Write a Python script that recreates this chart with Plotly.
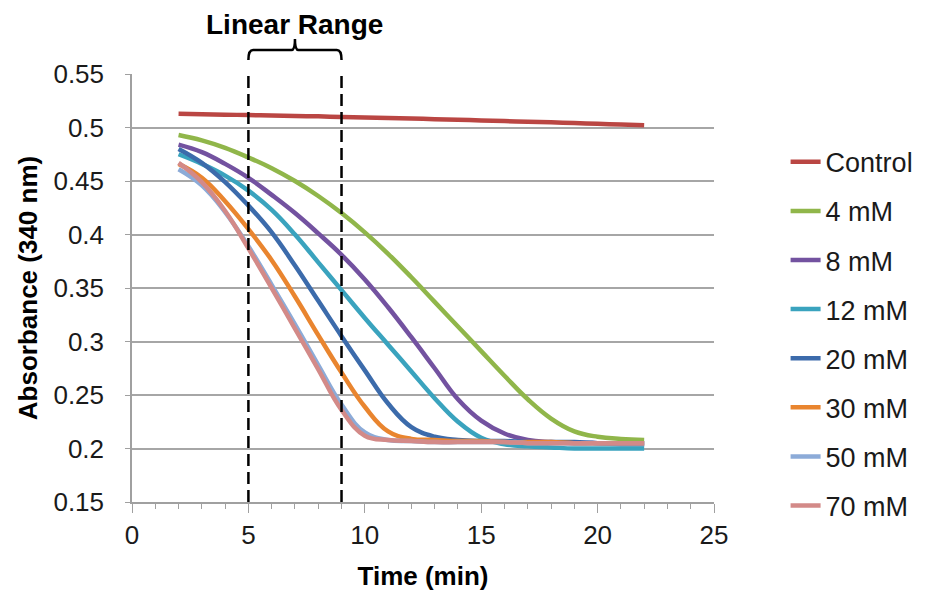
import plotly.graph_objects as go

# ---------------- data ----------------
times = [2, 3, 4, 5, 6, 7, 8, 9, 10, 11, 12, 13, 14, 15, 16, 17, 18, 19, 20, 21, 22]

control = [0.5128, 0.5124, 0.5120, 0.5116, 0.5112, 0.5108, 0.5104, 0.5099, 0.5094, 0.5089, 0.5084,
           0.5078, 0.5072, 0.5066, 0.5060, 0.5054, 0.5048, 0.5041, 0.5034, 0.5027, 0.5020]
mm4 = [0.493, 0.488, 0.481, 0.472, 0.462, 0.450, 0.436, 0.420, 0.402, 0.382, 0.360,
       0.337, 0.314, 0.291, 0.268, 0.246, 0.228, 0.216, 0.211, 0.209, 0.208]
mm8 = [0.484, 0.477, 0.466, 0.453, 0.437, 0.420, 0.401, 0.381, 0.358, 0.332, 0.304,
       0.275, 0.246, 0.226, 0.214, 0.208, 0.206, 0.205, 0.205, 0.204, 0.204]
mm12 = [0.475, 0.466, 0.455, 0.441, 0.423, 0.400, 0.374, 0.348, 0.322, 0.297, 0.272,
        0.247, 0.225, 0.210, 0.204, 0.202, 0.201, 0.200, 0.200, 0.200, 0.200]
mm20 = [0.480, 0.467, 0.449, 0.427, 0.402, 0.371, 0.338, 0.305, 0.273, 0.242, 0.220,
        0.211, 0.208, 0.207, 0.207, 0.206, 0.206, 0.206, 0.205, 0.205, 0.205]
mm30 = [0.466, 0.453, 0.431, 0.405, 0.376, 0.342, 0.306, 0.271, 0.239, 0.216, 0.209,
        0.208, 0.207, 0.207, 0.206, 0.206, 0.206, 0.205, 0.205, 0.205, 0.205]
mm50 = [0.461, 0.446, 0.421, 0.389, 0.353, 0.316, 0.278, 0.241, 0.215, 0.208, 0.207,
        0.206, 0.206, 0.206, 0.206, 0.205, 0.205, 0.205, 0.205, 0.205, 0.205]
mm70 = [0.467, 0.449, 0.422, 0.387, 0.350, 0.312, 0.274, 0.236, 0.212, 0.208, 0.207,
        0.206, 0.206, 0.206, 0.206, 0.205, 0.205, 0.205, 0.205, 0.205, 0.205]

series_names = ["Control", "4 mM", "8 mM", "12 mM", "20 mM", "30 mM", "50 mM", "70 mM"]
series_values = [control, mm4, mm8, mm12, mm20, mm30, mm50, mm70]
series_colors = ["#BA4643", "#90B64A", "#7352A0", "#3AA3BE", "#3C6BAB", "#E9852F", "#8CABD8", "#D38A88"]

linear_range = [5, 9]
x_ticks = [0, 5, 10, 15, 20, 25]
y_ticks = [0.15, 0.2, 0.25, 0.3, 0.35, 0.4, 0.45, 0.5, 0.55]
y_tick_labels = ["0.15", "0.2", "0.25", "0.3", "0.35", "0.4", "0.45", "0.5", "0.55"]

FONT = "Arial, Liberation Sans, sans-serif"

fig = go.Figure()
for i, (name, vals, col) in enumerate(zip(series_names, series_values, series_colors)):
    fig.add_trace(go.Scatter(
        x=times, y=vals, name=name, mode="lines",
        line=dict(color=col, width=4.5, shape="spline", smoothing=1.2),
        legendgroup=f"g{i}",
    ))

# dashed lines delimiting the linear range
for xv in linear_range:
    fig.add_shape(type="line", xref="x", yref="y", x0=xv, x1=xv, y0=0.15, y1=0.55,
                  line=dict(color="black", width=2.5, dash="12px,6px"), layer="above")

# bracket above the linear range
a, b = linear_range
m = (a + b) / 2
yb, yt, ytip = 1.033, 1.056, 1.082
path = (f"M {a},{yb} Q {a},{yt} {a+0.2},{yt} L {m-0.15},{yt} Q {m},{yt} {m},{ytip} "
        f"Q {m},{yt} {m+0.15},{yt} L {b-0.2},{yt} Q {b},{yt} {b},{yb}")
fig.add_shape(type="path", xref="x", yref="paper", path=path,
              line=dict(color="black", width=2.5))

fig.add_annotation(x=m, xref="x", y=1.116, yref="paper", text="<b>Linear Range</b>",
                   showarrow=False, font=dict(family=FONT, size=28, color="black"),
                   xanchor="center", yanchor="middle")

fig.update_layout(
    width=928, height=602,
    margin=dict(l=132, r=214, t=74, b=100, autoexpand=False),
    paper_bgcolor="white", plot_bgcolor="white",
    font=dict(family=FONT, size=26, color="#1a1a1a"),
    showlegend=True,
    legend=dict(
        x=1.123, y=0.851, xanchor="left", yanchor="top",
        font=dict(family=FONT, size=27, color="#1a1a1a"),
        traceorder="grouped", tracegroupgap=11,
        bgcolor="rgba(0,0,0,0)", itemwidth=30,
    ),
    xaxis=dict(
        range=[0, 25], tickvals=x_ticks, ticktext=[str(v) for v in x_ticks],
        showgrid=False, zeroline=False,
        showline=True, linecolor="#A0A0A0", linewidth=1.5,
        ticks="outside", ticklen=9, tickcolor="#A0A0A0", tickwidth=1.3,
        minor=dict(dtick=1, ticks="outside", ticklen=5, tickcolor="#A0A0A0", tickwidth=1.3, showgrid=False),
        tickfont=dict(family=FONT, size=26, color="#1a1a1a"),
        ticklabelstandoff=0,
        title=dict(text="<b>Time (min)</b>", font=dict(family=FONT, size=26, color="black"), standoff=18),
    ),
    yaxis=dict(
        range=[0.15, 0.55], tickvals=y_ticks, ticktext=y_tick_labels,
        showgrid=True, gridcolor="#A6A6A6", gridwidth=1.5,
        zeroline=False,
        showline=True, linecolor="#A0A0A0", linewidth=1.5,
        ticks="outside", ticklen=5, tickcolor="#A0A0A0", tickwidth=1.3,
        tickfont=dict(family=FONT, size=26, color="#1a1a1a"),
        ticklabelstandoff=16,
        title=dict(text="<b>Absorbance (340 nm)</b>", font=dict(family=FONT, size=26, color="black"), standoff=8),
    ),
)

fig.write_html("out.html")
